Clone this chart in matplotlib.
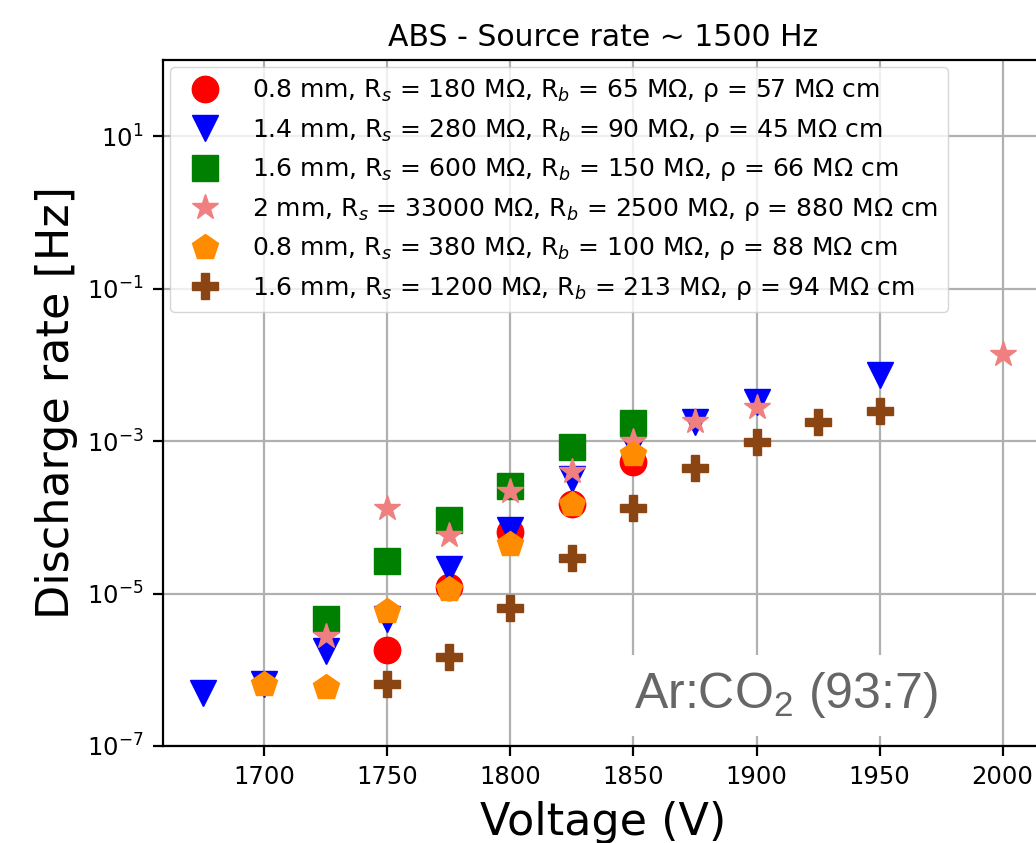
import matplotlib
matplotlib.use("Agg")
import matplotlib.pyplot as plt
import numpy as np

# Discharge rate vs. voltage for several ABS samples, Ar:CO2 (93:7)
v_red = [1750, 1775, 1800, 1825, 1850]
r_red = [1.8e-6, 1.2e-5, 6.4e-5, 1.5e-4, 5.3e-4]

v_blue = [1675, 1700, 1725, 1750, 1775, 1800, 1825, 1850, 1875, 1900, 1950]
r_blue = [5.0e-7, 6.5e-7, 1.75e-6, 4.7e-6, 2.1e-5, 6.9e-5, 3.2e-4, 9.0e-4, 1.8e-3, 3.3e-3, 7.4e-3]

v_green = [1725, 1750, 1775, 1800, 1825, 1850]
r_green = [4.6e-6, 2.7e-5, 9.3e-5, 2.6e-4, 8.3e-4, 1.74e-3]

v_pink = [1725, 1750, 1775, 1800, 1825, 1850, 1875, 1900, 2000]
r_pink = [2.75e-6, 1.33e-4, 5.9e-5, 2.2e-4, 4.1e-4, 1.0e-3, 1.85e-3, 2.8e-3, 1.4e-2]

v_orange = [1700, 1725, 1750, 1775, 1800, 1825, 1850]
r_orange = [6.6e-7, 6.0e-7, 5.9e-6, 1.13e-5, 4.5e-5, 1.5e-4, 6.8e-4]

v_brown = [1750, 1775, 1800, 1825, 1850, 1875, 1900, 1925, 1950]
r_brown = [6.5e-7, 1.45e-6, 6.5e-6, 2.9e-5, 1.33e-4, 4.4e-4, 9.6e-4, 1.78e-3, 2.45e-3]

labels = [
    "0.8 mm, R$_s$ = 180 MΩ, R$_b$ = 65 MΩ, ρ = 57 MΩ cm",
    "1.4 mm, R$_s$ = 280 MΩ, R$_b$ = 90 MΩ, ρ = 45 MΩ cm",
    "1.6 mm, R$_s$ = 600 MΩ, R$_b$ = 150 MΩ, ρ = 66 MΩ cm",
    "2 mm, R$_s$ = 33000 MΩ, R$_b$ = 2500 MΩ, ρ = 880 MΩ cm",
    "0.8 mm, R$_s$ = 380 MΩ, R$_b$ = 100 MΩ, ρ = 88 MΩ cm",
    "1.6 mm, R$_s$ = 1200 MΩ, R$_b$ = 213 MΩ, ρ = 94 MΩ cm",
]

series = [
    (v_red, r_red, "o", "red"),
    (v_blue, r_blue, "v", "blue"),
    (v_green, r_green, "s", "green"),
    (v_pink, r_pink, "*", "lightcoral"),
    (v_orange, r_orange, "p", "darkorange"),
    (v_brown, r_brown, "P", "saddlebrown"),
]

fig = plt.figure(figsize=(10.36, 8.43), dpi=100)
ax = fig.add_axes([0.1573, 0.1151, 0.849, 0.8138])

for (v, r, m, c), lab in zip(series, labels):
    ax.plot(v, r, linestyle="none", marker=m, color=c, markersize=19, label=lab)

ax.set_yscale("log")
ax.set_ylim(1e-7, 1e2)
ax.set_yticks([1e-7, 1e-5, 1e-3, 1e-1, 1e1])
ax.minorticks_off()
ax.grid(True, color="#b0b0b0", linewidth=1.6)
ax.set_axisbelow(True)

for s in ax.spines.values():
    s.set_linewidth(1.6)
ax.tick_params(labelsize=17.5, length=7, width=1.6, pad=7)

ax.set_title("ABS - Source rate ~ 1500 Hz", fontsize=21.5, pad=10)
ax.set_xlabel("Voltage (V)", fontsize=32, labelpad=8)
ax.set_ylabel("Discharge rate [Hz]", fontsize=32, labelpad=6)

ax.legend(loc="upper left", fontsize=18, borderaxespad=0.3, handletextpad=0.85)

ax.text(0.881, 0.055, "Ar:CO$_\\mathregular{2}$ (93:7)", transform=ax.transAxes,
        ha="right", va="baseline", fontsize=36, color="#666666",
        family="Liberation Sans",
        bbox=dict(facecolor="white", edgecolor="none", pad=11))

fig.savefig("out.png", dpi=100)
